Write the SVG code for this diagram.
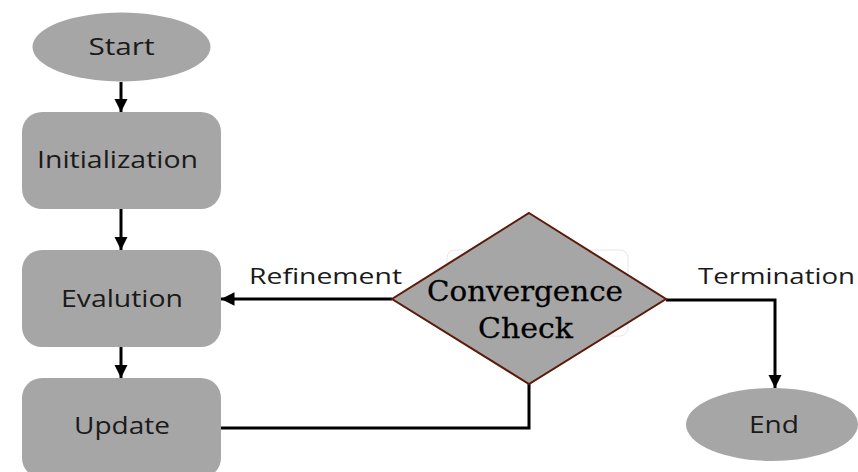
<svg xmlns="http://www.w3.org/2000/svg" width="858" height="472" viewBox="0 0 858 472">
<style>
.node{fill:#a6a6a6}
.lbl{font-family:"Open Sans","Noto Sans",sans-serif;font-size:23.5px;fill:#1a1a1a;text-anchor:middle}
.edge{font-family:"Open Sans","Noto Sans",sans-serif;font-size:22.5px;fill:#1a1a1a}
.dia{font-family:"DejaVu Serif","Liberation Serif",serif;font-size:28px;fill:#000;text-anchor:middle;stroke:#000;stroke-width:0.3}
.c{fill:none;stroke:#000;stroke-width:3}
</style>
<defs>
<marker id="ah" viewBox="0 0 10 10" refX="10" refY="5" markerWidth="4.5" markerHeight="4.5" orient="auto" markerUnits="strokeWidth">
<path d="M0,0 L10,5 L0,10 z" fill="#000"/>
</marker>
</defs>
<rect width="858" height="472" fill="#fff"/>
<rect x="447" y="250" width="181" height="86" rx="8" fill="none" stroke="#e6e6e6" stroke-width="1"/>
<g id="connectors">
<line class="c" x1="121" y1="82" x2="121" y2="112" marker-end="url(#ah)"/>
<line class="c" x1="121" y1="209" x2="121" y2="250" marker-end="url(#ah)"/>
<line class="c" x1="121" y1="347" x2="121" y2="378" marker-end="url(#ah)"/>
<line class="c" x1="392" y1="299" x2="221" y2="299" marker-end="url(#ah)"/>
<polyline class="c" points="666,300 775,300 775,388" marker-end="url(#ah)"/>
<polyline class="c" points="221,428 529,428 529,384"/>
<text class="edge" x="249" y="284" textLength="153" lengthAdjust="spacingAndGlyphs">Refinement</text>
<text class="edge" x="698" y="284" textLength="157" lengthAdjust="spacingAndGlyphs">Termination</text>
</g>
<g id="start"><ellipse class="node" cx="121.5" cy="47" rx="89" ry="34.5"/><text class="lbl" x="121.5" y="55" textLength="66" lengthAdjust="spacingAndGlyphs">Start</text></g>
<g id="init"><rect class="node" x="22" y="112" width="199" height="97" rx="20"/><text class="lbl" x="117.5" y="168" textLength="161" lengthAdjust="spacingAndGlyphs">Initialization</text></g>
<g id="eval"><rect class="node" x="22" y="250" width="199" height="97" rx="20"/><text class="lbl" x="122" y="307" textLength="122" lengthAdjust="spacingAndGlyphs">Evalution</text></g>
<g id="update"><rect class="node" x="22" y="378" width="199" height="100" rx="20"/><text class="lbl" x="122" y="434" textLength="96" lengthAdjust="spacingAndGlyphs">Update</text></g>
<g id="check"><polygon points="529,213 666,299 529,384 392,299" fill="#a6a6a6" stroke="#5c1a0a" stroke-width="2"/><text class="dia" x="525" y="301" textLength="196" lengthAdjust="spacingAndGlyphs">Convergence</text><text class="dia" x="525.5" y="338" textLength="95" lengthAdjust="spacingAndGlyphs">Check</text></g>
<g id="end"><ellipse class="node" cx="772" cy="424.5" rx="86" ry="36.5"/><text class="lbl" x="774" y="433" textLength="50" lengthAdjust="spacingAndGlyphs">End</text></g>
</svg>
